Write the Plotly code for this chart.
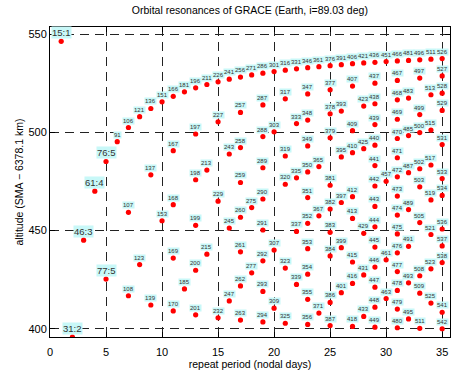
import plotly.graph_objects as go

# Repeat period (nodal days), revolutions per period and resulting altitude (km)
days = [
    1, 2, 3, 4, 5, 5, 6,
    7, 7, 7, 8, 8, 9, 9, 9, 10, 10,
    11, 11, 11, 11, 11, 12, 12,
    13, 13, 13, 13, 13, 13, 14, 14, 14,
    15, 15, 15, 15, 16, 16, 16, 16,
    17, 17, 17, 17, 17, 17, 17, 17, 18, 18, 18,
    19, 19, 19, 19, 19, 19, 19, 19, 19, 20, 20, 20, 20,
    21, 21, 21, 21, 21, 21, 22, 22, 22, 22, 22,
    23, 23, 23, 23, 23, 23, 23, 23, 23, 23, 23, 24, 24, 24, 24,
    25, 25, 25, 25, 25, 25, 25, 25, 25, 25, 26, 26, 26, 26, 26, 26,
    27, 27, 27, 27, 27, 27, 27, 27, 27, 28, 28, 28, 28, 28, 28,
    29, 29, 29, 29, 29, 29, 29, 29, 29, 29, 29, 29, 29, 29, 30, 30, 30, 30,
    31, 31, 31, 31, 31, 31, 31, 31, 31, 31, 31, 31, 31, 31, 31,
    32, 32, 32, 32, 32, 32, 32, 32,
    33, 33, 33, 33, 33, 33, 33, 33, 33, 33,
    34, 34, 34, 34, 34, 34, 34, 34,
    35, 35, 35, 35, 35, 35, 35, 35, 35, 35, 35, 35,
]
revs = [
    15, 31, 46, 61, 76, 77, 91,
    106, 107, 108, 121, 123, 136, 137, 139, 151, 153,
    166, 167, 168, 169, 170, 181, 185,
    196, 197, 198, 199, 200, 201, 211, 213, 215,
    226, 227, 229, 232, 241, 243, 245, 247,
    256, 257, 258, 259, 260, 261, 262, 263, 271, 275, 277,
    286, 287, 288, 289, 290, 291, 292, 293, 294, 301, 303, 307, 309,
    316, 317, 319, 320, 323, 325, 331, 333, 335, 337, 339,
    346, 347, 348, 349, 350, 351, 352, 353, 354, 355, 356, 361, 365, 367, 371,
    376, 377, 378, 379, 381, 382, 383, 384, 386, 387, 391, 393, 395, 397, 399, 401,
    406, 407, 409, 410, 412, 413, 415, 416, 418, 421, 423, 425, 429, 431, 433,
    436, 437, 438, 439, 440, 441, 442, 443, 444, 445, 446, 447, 448, 449, 451, 457, 461, 463,
    466, 467, 468, 469, 470, 471, 472, 473, 474, 475, 476, 477, 478, 479, 480,
    481, 483, 485, 487, 489, 491, 493, 495,
    496, 497, 499, 500, 502, 503, 505, 508, 509, 511,
    511, 513, 515, 517, 519, 521, 523, 525,
    526, 527, 528, 529, 531, 533, 534, 536, 537, 538, 541, 542,
]
altitude = [
    546.4, 395.8, 445.1, 470.1, 485.2, 425.3, 495.3,
    502.5, 459.3, 416.8, 508.0, 432.7, 512.2, 478.4, 412.1, 515.6, 455.0,
    518.4, 490.7, 463.2, 436.0, 409.1, 520.7, 420.3,
    522.7, 499.2, 475.9, 452.7, 429.8, 407.1, 524.4, 480.8, 438.0,
    525.8, 505.4, 465.0, 405.6, 527.1, 489.0, 451.3, 414.2,
    528.2, 510.2, 492.3, 474.5, 456.8, 439.2, 421.8, 404.4, 529.3, 461.7, 428.5,
    530.2, 514.0, 497.9, 482.0, 466.1, 450.3, 434.6, 419.0, 403.5, 531.0, 500.3, 440.1, 410.5,
    531.7, 517.1, 488.0, 473.6, 430.9, 402.8, 532.4, 504.5, 476.9, 449.6, 422.6,
    533.0, 519.6, 506.3, 493.1, 479.9, 466.8, 453.7, 440.8, 427.8, 415.0, 402.2,
    533.5, 482.6, 457.5, 408.0,
    534.0, 521.7, 509.5, 497.3, 473.1, 461.0, 449.1, 437.1, 413.4, 401.6,
    534.5, 510.9, 487.5, 464.3, 441.3, 418.4,
    535.0, 523.6, 500.9, 489.7, 467.3, 456.2, 434.0, 423.1, 401.2,
    535.4, 513.4, 491.7, 448.6, 427.4, 406.3,
    535.7, 525.1, 514.6, 504.0, 493.5, 483.1, 472.7, 462.3, 451.9, 441.6, 431.4, 421.2, 411.0, 400.8,
    536.1, 475.1, 435.1, 415.4,
    536.4, 526.5, 516.6, 506.7, 496.9, 487.1, 477.4, 467.6, 457.9, 448.3, 438.7, 429.1, 419.5, 410.0, 400.5,
    536.7, 517.5, 498.4, 479.5, 460.7, 442.0, 423.4, 405.0,
    537.0, 527.7, 509.1, 499.9, 481.5, 472.3, 454.1, 427.0, 418.1, 400.2,
    537.3, 519.2, 501.2, 483.4, 465.6, 448.0, 430.5, 413.1,
    537.6, 528.8, 520.0, 511.2, 493.8, 476.5, 467.9, 450.8, 442.2, 433.7, 408.4, 400.0,
]

x_ticks = [0, 5, 10, 15, 20, 25, 30, 35]
y_ticks = [400, 450, 500, 550]

FONT = "Liberation Sans, Arial, Helvetica, sans-serif"
LABEL_BG = "#c8f8f8"

fig = go.Figure()
fig.add_trace(go.Scatter(
    x=days, y=altitude, mode="markers",
    marker=dict(color="#ff0000", size=5.2, line=dict(width=0)),
    hoverinfo="x+y", showlegend=False,
))

# Resonance labels: short periods as "revs:days", the rest as revolution count
for d, n, h in zip(days, revs, altitude):
    short = d <= 5
    fig.add_annotation(
        x=d, y=h, text=f"{n}:{d}" if short else str(n),
        showarrow=False, xanchor="center", yanchor="bottom",
        yshift=2 if short else 3,
        font=dict(family=FONT, size=9.5 if short else 6, color="#333333"),
        bgcolor=LABEL_BG, borderpad=0,
    )

axis_common = dict(
    showline=True, linecolor="black", linewidth=1, mirror="ticks",
    ticks="inside", ticklen=5, tickcolor="black",
    showgrid=True, gridcolor="#222222", gridwidth=1, griddash="9px,6px",
    zeroline=False, automargin=False,
    tickfont=dict(family=FONT, size=11, color="black"),
)

fig.update_layout(
    width=458, height=370,
    margin=dict(l=50, r=8, t=27, b=33),
    paper_bgcolor="white", plot_bgcolor="white",
    title=dict(text="Orbital resonances of GRACE (Earth, i=89.03 deg)",
               x=0.5455, xanchor="center", y=0.972, yanchor="middle",
               font=dict(family=FONT, size=10.5, color="black")),
    xaxis=dict(range=[0, 35.7], tickvals=x_ticks, ticklabelstandoff=5,
               title=dict(text="repeat period (nodal days)", standoff=6,
                          font=dict(family=FONT, size=10.5, color="black")),
               **axis_common),
    yaxis=dict(range=[395.8, 553.7], tickvals=y_ticks,
               title=dict(text="altitude (SMA \u2212 6378.1 km)", standoff=2,
                          font=dict(family=FONT, size=10.5, color="black")),
               **axis_common),
)

fig.write_html("out.html")
